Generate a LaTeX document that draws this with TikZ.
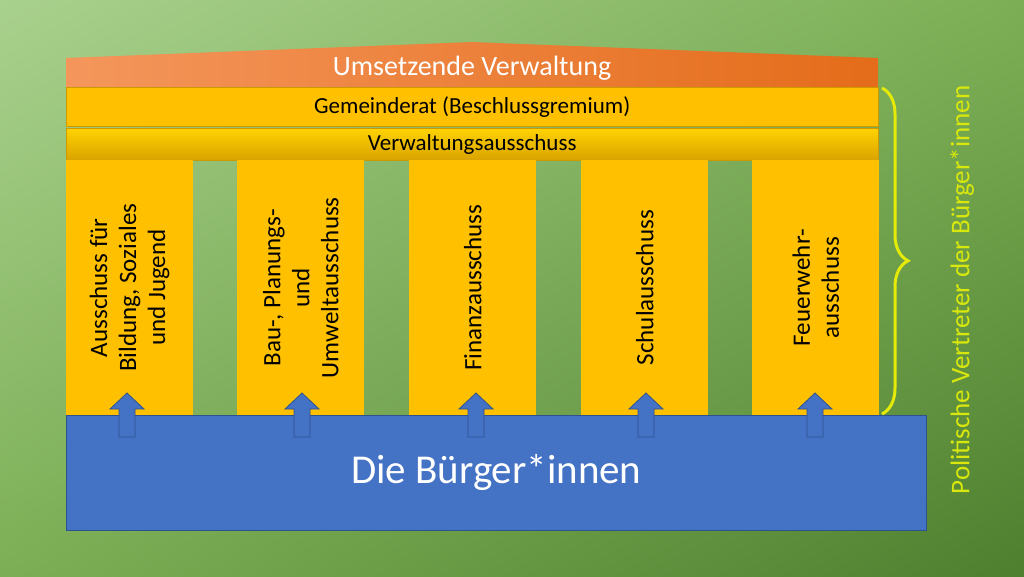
\documentclass[tikz,border=0pt]{standalone}
\usepackage{fontspec}
\setmainfont{Carlito}
\usetikzlibrary{decorations.pathreplacing,shadings}
\definecolor{bgA}{HTML}{A9D18E}
\definecolor{bgM}{HTML}{7CAF55}
\definecolor{bgB}{HTML}{4E7F2F}
\definecolor{gold}{HTML}{FFC000}
\definecolor{blueb}{HTML}{4472C4}
\definecolor{blued}{HTML}{2F528F}
\definecolor{orA}{HTML}{F4965C}
\definecolor{orB}{HTML}{E46C1A}
\begin{document}
\begin{tikzpicture}[x=1pt,y=-1pt,
  bar/.style={fill=gold,draw=gold!80!black,line width=0.4pt,minimum width=812pt,inner sep=0pt,font=\fontsize{23}{25}\selectfont},
  col/.style={fill=gold,minimum width=127pt,minimum height=255pt,inner sep=0pt,anchor=north west},
  coltext/.style={rotate=90,align=center,font=\fontsize{25}{29}\selectfont},
  uparr/.style={fill=blueb,draw=blued,line width=0.8pt}]
\shade[upper left=bgA,lower right=bgB,upper right=bgM,lower left=bgM] (0,0) rectangle (1024,576);
\useasboundingbox (0,0) rectangle (1024,576);
% roof
\shade[left color=orA,right color=orB] (66,87) -- (66,58) -- (472,42) -- (878,58) -- (878,87) -- cycle;
\node[text=white,font=\fontsize{28}{30}\selectfont] (roof) at (472,68) {Umsetzende Verwaltung};
\node[bar,minimum height=39pt,anchor=north west] (rat) at (66,87) {Gemeinderat (Beschlussgremium)};
\node[bar,minimum height=32pt,anchor=north west,top color=gold!70!yellow,bottom color=gold!85!black] (va) at (66,128) {Verwaltungsausschuss};
% columns
\node[col] (c1) at (66,160) {};
\node[col] (c2) at (237,160) {};
\node[col] (c3) at (409,160) {};
\node[col] (c4) at (581,160) {};
\node[col] (c5) at (752,160) {};
\node[coltext] at (c1) {Ausschuss für\\Bildung, Soziales\\und Jugend};
\node[coltext] at (c2) {Bau-, Planungs-\\und\\Umweltausschuss};
\node[coltext] at (c3) {Finanzausschuss};
\node[coltext] at (c4) {Schulausschuss};
\node[coltext] at (c5) {Feuerwehr-\\ausschuss};
% base
\node[fill=blueb,draw=blued,line width=0.6pt,minimum width=860pt,minimum height=115pt,anchor=north west,inner sep=0pt,text=white,font=\fontsize{41}{44}\selectfont] (base) at (66,415) {Die Bürger*innen};
\foreach \x in {127,302,476,646,815}
  \draw[uparr] (\x,393) -- (\x+17,409) -- (\x+8,409) -- (\x+8,437) -- (\x-8,437) -- (\x-8,409) -- (\x-17,409) -- cycle;
% brace
\coordinate (bt) at (882,88);
\coordinate (bb) at (882,414);
\draw[yellow!90!green,line width=3pt,decorate,decoration={brace,amplitude=26pt,aspect=0.53}] (bt) -- (bb);
\node[rotate=90,text=yellow!85!green,font=\fontsize{27}{30}\selectfont] (pv) at (962,290) {Politische Vertreter der Bürger*innen};
\end{tikzpicture}
\end{document}
